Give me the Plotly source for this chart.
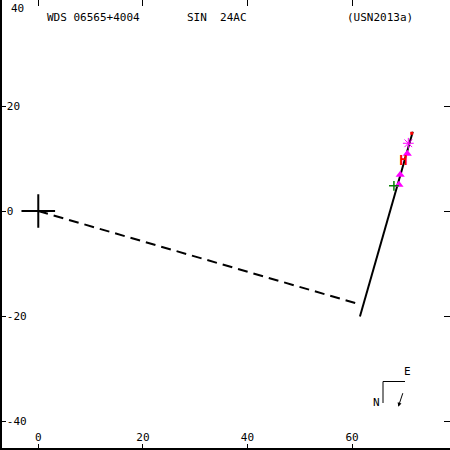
import plotly.graph_objects as go

# ---- data (arcsec) ----
primary_x = [0]
primary_y = [0]
node_x = [0, 61.2]          # dashed line from primary
node_y = [0, -17.7]
orbit_x = [61.5, 71.6]      # solid orbit segment
orbit_y = [-20.1, 15.1]
meas_x = [70.55, 69.2, 68.96]   # magenta measures
meas_y = [10.9, 6.9, 5.0]
star_x = [70.75]
star_y = [12.9]
hip_x = [69.8]
hip_y = [9.4]
green_x = [68.0]
green_y = [4.8]
red_x = [71.4]
red_y = [14.8]
xticks = [0, 20, 40, 60]
xlabels = ["0", "20", "40", "60"]
yticks = [-40, -20, 0, 20, 40]
ylabels = ["-40", "-20", "0", "20", "40"]

FONT = "DejaVu Sans Mono"
fig = go.Figure()
fig.add_trace(go.Scatter(x=node_x, y=node_y, mode="lines",
                         line=dict(color="black", width=2, dash="10px,6px")))
fig.add_trace(go.Scatter(x=orbit_x, y=orbit_y, mode="lines",
                         line=dict(color="black", width=2)))
fig.add_trace(go.Scatter(x=primary_x, y=primary_y, mode="markers",
                         marker=dict(symbol="cross-thin", size=24, color="black",
                                     line=dict(color="black", width=2))))
fig.add_trace(go.Scatter(x=meas_x, y=meas_y, mode="markers",
                         marker=dict(symbol="triangle-up", size=8, color="magenta")))
fig.add_trace(go.Scatter(x=star_x, y=star_y, mode="markers",
                         marker=dict(symbol="asterisk-open", size=9, color="magenta",
                                     line=dict(color="magenta", width=1))))
fig.add_trace(go.Scatter(x=green_x, y=green_y, mode="markers",
                         marker=dict(symbol="cross-thin-open", size=7, color="green",
                                     line=dict(color="green", width=1.5))))
fig.add_trace(go.Scatter(x=red_x, y=red_y, mode="markers",
                         marker=dict(symbol="square", size=3, color="red")))
fig.add_trace(go.Scatter(x=hip_x, y=hip_y, mode="text", text=["H"],
                         textfont=dict(color="red", size=14, family=FONT,
                                       weight="bold")))

axis_common = dict(showgrid=False, zeroline=False, ticks="inside", ticklen=6,
                   tickwidth=1, tickcolor="black", automargin=False,
                   tickfont=dict(family=FONT, size=11, color="black"))
fig.update_layout(
    width=450, height=450, margin=dict(l=0, r=0, t=0, b=0, pad=0),
    plot_bgcolor="white", paper_bgcolor="white", showlegend=False,
    xaxis=dict(range=[-7.32, 78.72], tickvals=xticks, ticktext=xlabels, showline=False,
               ticklabelposition="inside", **axis_common),
    yaxis=dict(range=[-45.52, 40.19], tickvals=yticks, ticktext=ylabels, showline=False,
               ticklabelposition="inside", **axis_common),
    xaxis2=dict(range=[-7.32, 78.72], tickvals=xticks, overlaying="x", side="top",
                showline=False, showticklabels=False, **axis_common),
    yaxis2=dict(range=[-45.52, 40.19], tickvals=yticks, overlaying="y", side="right",
                showline=False, showticklabels=False, **axis_common),
)
fig.add_trace(go.Scatter(x=[None], y=[None], xaxis="x2", yaxis="y2"))

# frame lines (left and bottom)
fig.add_shape(type="line", xref="paper", yref="paper", x0=1 / 450, x1=1 / 450,
              y0=0, y1=1, line=dict(color="black", width=2))
fig.add_shape(type="line", xref="paper", yref="paper", x0=0, x1=1,
              y0=1 / 450, y1=1 / 450, line=dict(color="black", width=2))

tf = dict(family=FONT, size=11, color="black")
fig.add_annotation(text="40", x=9 / 450, y=1.0, xref="paper", yref="paper",
                   xanchor="left", yanchor="top", showarrow=False, font=tf)
for txt, xp in [("WDS 06565+4004", 45 / 450), ("SIN  24AC", 185 / 450),
                ("(USN2013a)", 345 / 450)]:
    fig.add_annotation(text=txt, x=xp, y=1 - 17 / 450, xref="paper", yref="paper",
                       xanchor="left", yanchor="middle", showarrow=False, font=tf)

# compass
fig.add_shape(type="line", xref="paper", yref="paper", x0=383 / 450, x1=405 / 450,
              y0=1 - 381.5 / 450, y1=1 - 381.5 / 450, line=dict(color="black", width=1))
fig.add_shape(type="line", xref="paper", yref="paper", x0=383 / 450, x1=383 / 450,
              y0=1 - 381.5 / 450, y1=1 - 403 / 450, line=dict(color="black", width=1))
fig.add_annotation(text="E", x=413 / 450, y=1 - 380 / 450, xref="paper", yref="paper",
                   showarrow=False, font=tf)
fig.add_annotation(text="N", x=382 / 450, y=1 - 411 / 450, xref="paper", yref="paper",
                   showarrow=False, font=tf)
fig.add_annotation(text="", x=398.3 / 450, y=1 - 406.7 / 450, xref="paper", yref="paper",
                   showarrow=True, ax=5, ay=-15, arrowhead=2, arrowsize=0.8,
                   arrowwidth=1, arrowcolor="black")

fig.write_html("out.html", config={"displayModeBar": False, "staticPlot": True},
               post_script="document.body.style.margin='0';document.body.style.padding='0';")
